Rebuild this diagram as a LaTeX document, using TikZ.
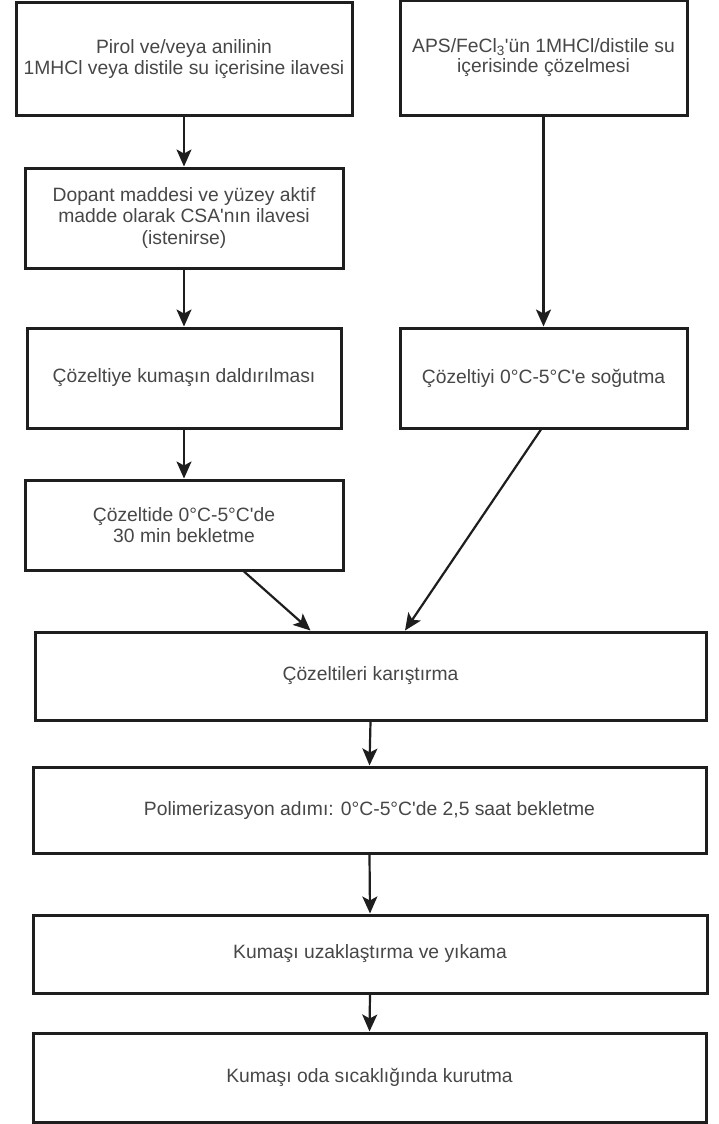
\documentclass[tikz,border=0pt]{standalone}
\usepackage{fontspec}
\setmainfont{Liberation Sans}[Ligatures=TeXOff]
\usetikzlibrary{arrows.meta,calc}
\definecolor{linecol}{HTML}{1E1E1E}
\definecolor{textcol}{HTML}{474747}
\begin{document}
\begin{tikzpicture}[x=1pt,y=-1pt,
  box/.style={draw=linecol,line width=3pt,fill=white,inner sep=0pt,align=center,
    text=textcol,font=\fontsize{19.3}{21.5}\selectfont},
  arr/.style={draw=linecol,line width=2.2pt,-{Stealth[length=17pt,width=15pt,inset=4pt]}}]
\useasboundingbox[fill=white] (0,0) rectangle (718,1124);
\node[box,minimum width=336pt,minimum height=112pt] (b1) at (184,59)
  {Pirol ve/veya anilinin\\1MHCl veya distile su içerisine ilavesi};
\node[box,minimum width=287pt,minimum height=114pt] (b2) at (543.5,58)
  {\raisebox{9pt}{\begin{tabular}{@{}c@{}}APS/FeCl\textsubscript{3}'ün 1MHCl/distile su\\[-2pt]içerisinde çözelmesi\end{tabular}}};
\node[box,minimum width=318pt,minimum height=100pt] (b3) at (184,218)
  {Dopant maddesi ve yüzey aktif\\madde olarak CSA'nın ilavesi\\(istenirse)};
\node[box,minimum width=314pt,minimum height=100pt] (b4) at (184,378)
  {Çözeltiye kumaşın daldırılması};
\node[box,minimum width=287pt,minimum height=100pt] (b5) at (543.5,378)
  {Çözeltiyi 0°C-5°C'e soğutma};
\node[box,minimum width=318pt,minimum height=90pt] (b6) at (184,525)
  {Çözeltide 0°C-5°C'de\\30 min bekletme};
\node[box,minimum width=671pt,minimum height=88pt] (b7) at (370.5,676)
  {Çözeltileri karıştırma};
\node[box,minimum width=673pt,minimum height=86pt] (b8) at (369.5,810)
  {Polimerizasyon adımı: 0°C-5°C'de 2,5 saat bekletme};
\node[box,minimum width=674pt,minimum height=78pt] (b9) at (370,954)
  {Kumaşı uzaklaştırma ve yıkama};
\node[box,minimum width=673pt,minimum height=89pt] (b10) at (369.5,1077.5)
  {Kumaşı oda sıcaklığında kurutma};
\draw[arr] (b1.south) -- (b3.north);
\draw[arr] (b3.south) -- (b4.north);
\draw[arr] (b4.south) -- (b6.north);
\draw[arr] (b2.south) -- (b5.north);
\draw[arr] ($(b6.south)+(60,0)$) -- ($(b7.north)+(-60,0)$);
\draw[arr] ($(b5.south)+(-2.5,0)$) -- ($(b7.north)+(34.5,0)$);
\draw[arr] (b7.south) -- (b8.north);
\draw[arr] (b8.south) -- (b9.north);
\draw[arr] (b9.south) -- (b10.north);
\end{tikzpicture}
\end{document}
